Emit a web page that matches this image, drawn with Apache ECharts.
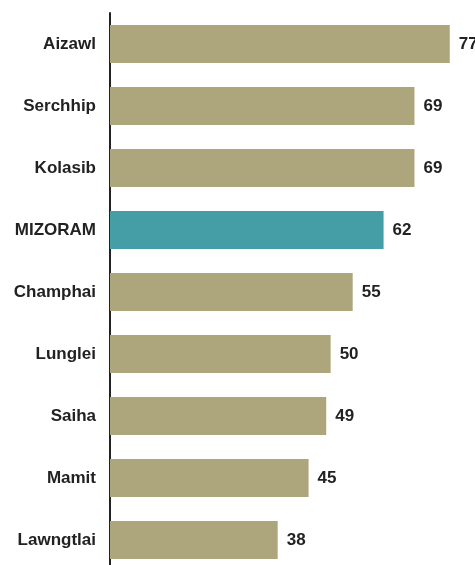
<!DOCTYPE html>
<html>
<head>
<meta charset="utf-8">
<script src="https://cdn.jsdelivr.net/npm/echarts@6/dist/echarts.min.js"></script>
<style>
  html, body { margin: 0; padding: 0; background: #fff; }
  #charts { width: 475px; height: 565px; }
</style>
</head>
<body>
<div id="charts"></div>
<script>
var districts = ['Aizawl', 'Serchhip', 'Kolasib', 'MIZORAM', 'Champhai', 'Lunglei', 'Saiha', 'Mamit', 'Lawngtlai'];
var values = [77, 69, 69, 62, 55, 50, 49, 45, 38];

var myChart = echarts.init(document.getElementById('charts'));

var barColor = '#ADA57B';
var stateColor = '#459DA5';

var option = {
    animation: false,
    grid: {
        left: 110,
        width: 353,
        top: 13,
        height: 558,
        containLabel: false,
        outerBoundsMode: 'none'
    },
    xAxis: {
        type: 'value',
        min: 0,
        max: 80,
        show: false
    },
    yAxis: {
        type: 'category',
        inverse: true,
        data: districts,
        axisLine: { show: true, lineStyle: { color: '#222', width: 2 } },
        axisTick: { show: false },
        axisLabel: {
            margin: 14,
            color: '#222',
            fontFamily: 'Liberation Sans, Arial, sans-serif',
            fontWeight: 'bold',
            fontSize: 17
        }
    },
    series: [{
        type: 'bar',
        barWidth: 38,
        data: values.map(function (v, i) {
            return {
                value: v,
                itemStyle: { color: districts[i] === 'MIZORAM' ? stateColor : barColor }
            };
        }),
        label: {
            show: true,
            position: 'right',
            distance: 9,
            color: '#222',
            fontFamily: 'Liberation Sans, Arial, sans-serif',
            fontWeight: 'bold',
            fontSize: 17
        }
    }]
};
myChart.setOption(option);
</script>
</body>
</html>
